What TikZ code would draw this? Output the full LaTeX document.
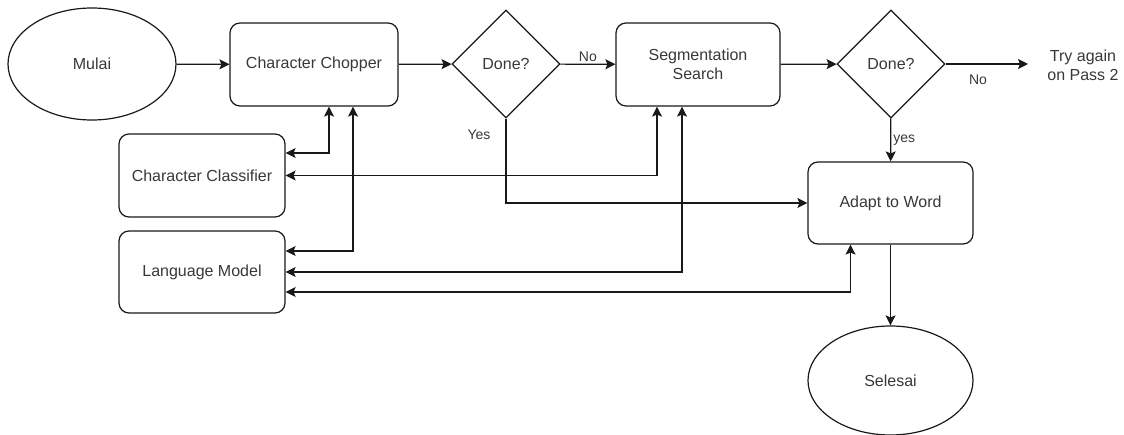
\documentclass[tikz,border=0pt]{standalone}
\usepackage{fontspec}
\setmainfont{Liberation Sans}
\usetikzlibrary{shapes.geometric,arrows.meta}
\tikzset{
  base/.style={draw=black!90, line width=1.2pt, text=black!78, font=\fontsize{16}{19}\selectfont, align=center, inner sep=0pt},
  term/.style={base, ellipse},
  proc/.style={base, rectangle, rounded corners=10pt},
  decis/.style={base, diamond, minimum width=108pt, minimum height=108pt},
  lbl/.style={text=black!78, font=\fontsize{14}{17}\selectfont, inner sep=2pt},
  conn/.style={line width=1.2pt, draw=black!90, -{Stealth[length=10pt,width=10pt,inset=2pt]}},
  dconn/.style={line width=1.2pt, draw=black!90, {Stealth[length=10pt,width=10pt,inset=2pt]}-{Stealth[length=10pt,width=10pt,inset=2pt]}}
}
\begin{document}
\begin{tikzpicture}[x=1pt,y=-1pt]
\useasboundingbox (0,0) rectangle (1124,435);
% nodes
\node[term, minimum width=168pt, minimum height=112pt] (mulai) at (92,64) {Mulai};
\node[proc, minimum width=168pt, minimum height=83pt] (cc) at (314,64.5) {Character Chopper};
\node[decis] (d1) at (506,64) {Done?};
\node[proc, minimum width=164pt, minimum height=83pt] (ss) at (698,64.5) {Segmentation\\Search};
\node[decis] (d2) at (891,64) {Done?};
\node[base, draw=none] (try) at (1083,65) {Try again\\on Pass 2};
\coordinate (tryend) at (1028,64);
\node[proc, minimum width=166pt, minimum height=83pt] (cls) at (202,175.5) {Character Classifier};
\node[proc, minimum width=166pt, minimum height=82pt] (lm) at (202,272) {Language Model};
\node[proc, minimum width=165pt, minimum height=82pt] (adapt) at (890.5,203) {Adapt to Word};
\node[term, minimum width=165pt, minimum height=109pt] (sel) at (890.5,380.5) {Selesai};
% main flow
\draw[conn] (mulai) -- (cc);
\draw[conn] (cc) -- (d1);
\draw[conn] (d1) -- node[lbl, above] {No} (ss);
\draw[conn] (ss) -- (d2);
\draw[conn] (d2.east) -- (tryend);
\node[lbl] (no2) at (978,80) {No};
\draw[conn] (d2) -- node[lbl, right] {yes} (adapt);
\draw[conn] (d1.south) |- (adapt.west);
\node[lbl] (yes1) at (479,135) {Yes};
\draw[conn] (adapt) -- (sel);
% helper connectors
\draw[dconn] ([xshift=15pt]cc.south) |- ([yshift=22.5pt]cls.east);
\draw[dconn] ([xshift=39pt]cc.south) |- ([yshift=21pt]lm.east);
\draw[dconn] ([xshift=-41pt]ss.south) |- (cls.east);
\draw[dconn] ([xshift=-16pt]ss.south) |- (lm.east);
\draw[dconn] ([xshift=-40pt]adapt.south) |- ([yshift=-20pt]lm.east);
\end{tikzpicture}
\end{document}
